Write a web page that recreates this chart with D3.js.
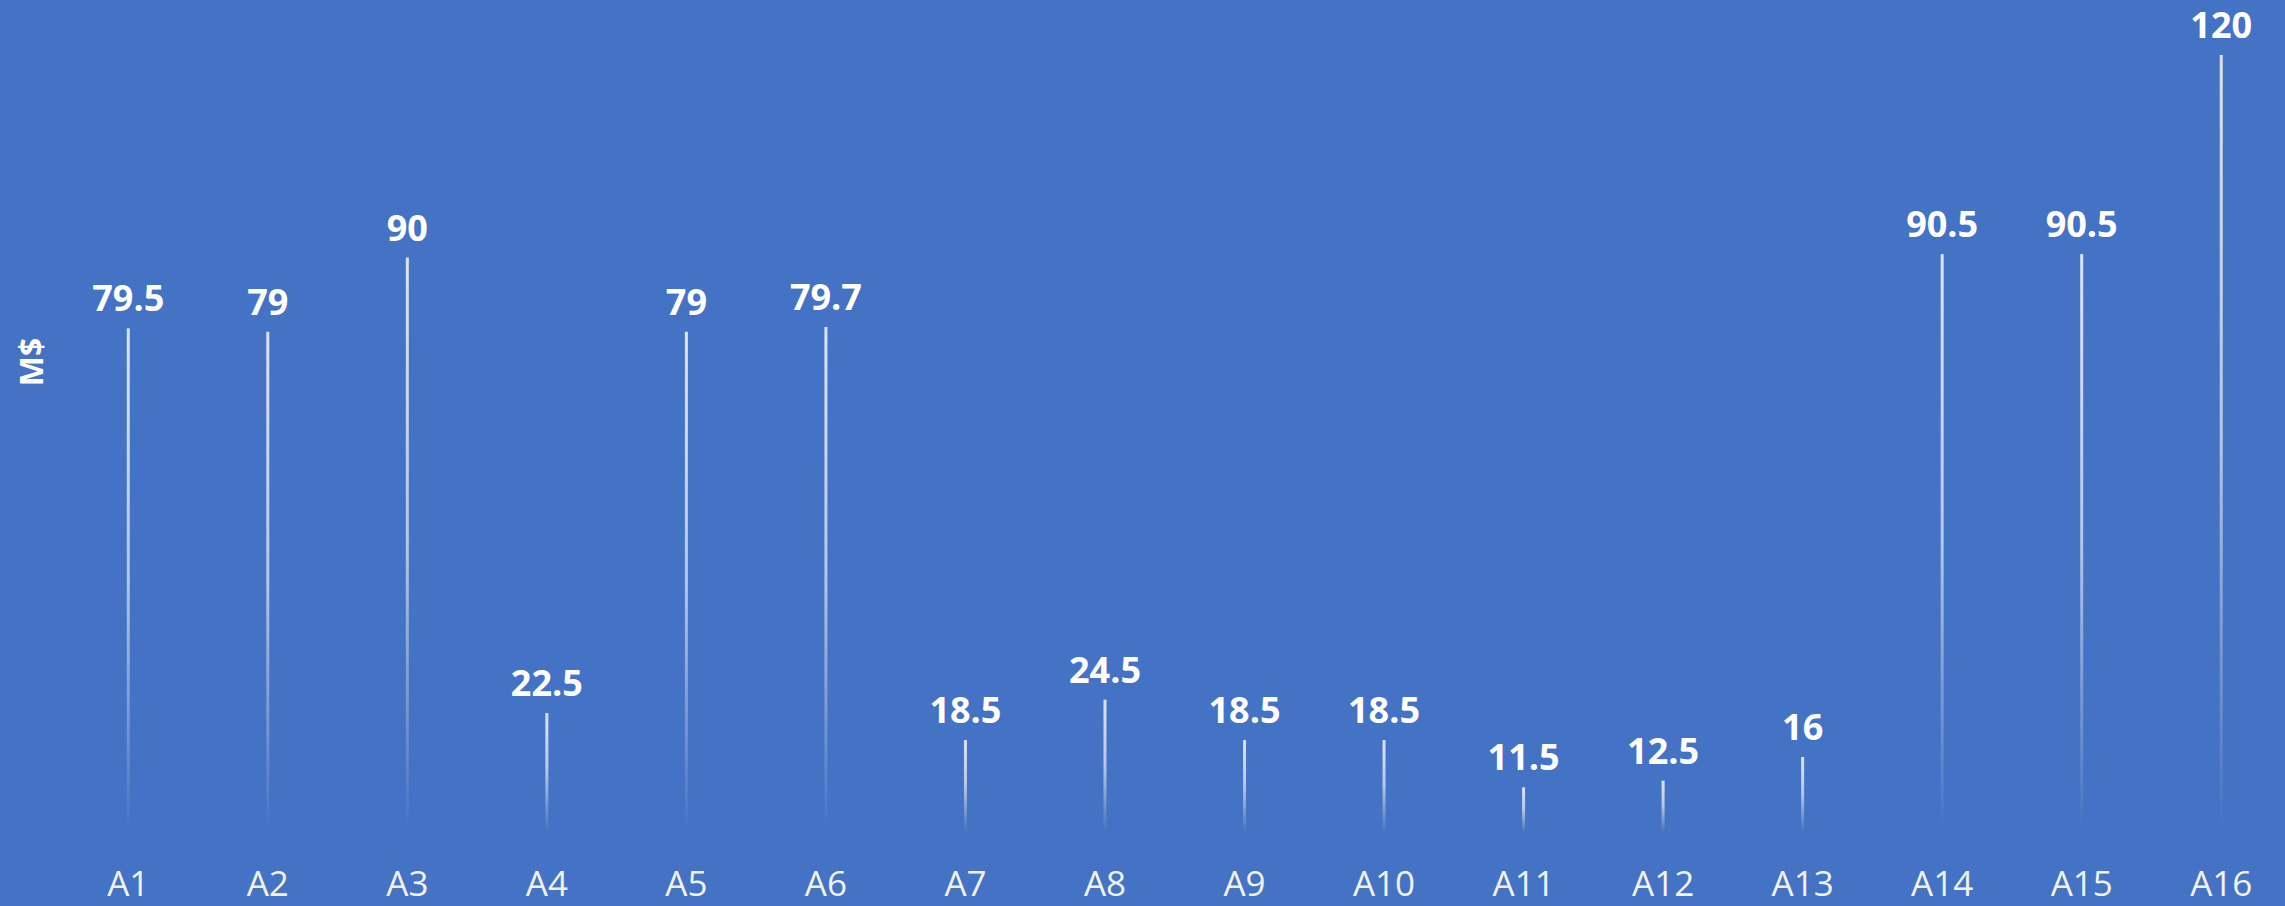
<!DOCTYPE html>
<html>
<head>
<meta charset="utf-8">
<script src="https://cdn.jsdelivr.net/npm/d3@7"></script>
<style>
  html, body { margin: 0; padding: 0; background: #4472C4; }
  svg { display: block; }
</style>
</head>
<body>
<script>
// Amounts per item, in millions of dollars
const categories = ["A1","A2","A3","A4","A5","A6","A7","A8","A9","A10","A11","A12","A13","A14","A15","A16"];
const values = [79.5, 79, 90, 22.5, 79, 79.7, 18.5, 24.5, 18.5, 18.5, 11.5, 12.5, 16, 90.5, 90.5, 120];
const unitLabel = "M$";

const W = 2285, H = 906;
const svg = d3.select("body").append("svg").attr("width", W).attr("height", H);

svg.append("rect").attr("width", W).attr("height", H).attr("fill", "#4472C4");

const x = d3.scaleBand().domain(categories).range([58.5, 2291]).padding(0);
const y = d3.scaleLinear().domain([0, 120]).range([865, 55]);

// Stems stop a little short of the baseline and fade out toward it
const stemGap = 33;

const grad = svg.append("defs").append("linearGradient")
  .attr("id", "stemFade").attr("x1", 0).attr("y1", 0).attr("x2", 0).attr("y2", 1);
grad.append("stop").attr("offset", "0%").attr("stop-color", "#E4EAF6").attr("stop-opacity", 0.95);
grad.append("stop").attr("offset", "50%").attr("stop-color", "#E4EAF6").attr("stop-opacity", 0.7);
grad.append("stop").attr("offset", "100%").attr("stop-color", "#E4EAF6").attr("stop-opacity", 0);

const data = categories.map((c, i) => ({ c, v: values[i] }));
const cx = d => x(d.c) + x.bandwidth() / 2;

svg.append("g").selectAll("rect").data(data).join("rect")
  .attr("x", d => cx(d) - 1.5)
  .attr("width", 3)
  .attr("y", d => y(d.v))
  .attr("height", d => Math.max(0, y(0) - stemGap - y(d.v)))
  .attr("fill", "url(#stemFade)");

svg.append("g").selectAll("text").data(data).join("text")
  .attr("x", cx)
  .attr("y", d => y(d.v) - 17)
  .attr("text-anchor", "middle")
  .attr("fill", "#FFFFFF")
  .style("font-family", "'Open Sans', sans-serif")
  .style("font-weight", 700)
  .style("font-size", "36px")
  .text(d => d.v);

// Category axis along the bottom, without domain line or ticks
const xAxis = svg.append("g")
  .attr("transform", `translate(0, ${H - 10})`)
  .call(d3.axisBottom(x).tickSize(0).tickPadding(0));
xAxis.select(".domain").remove();
xAxis.selectAll("text")
  .attr("dy", 0)
  .attr("fill", "#F2F2F2")
  .style("font-family", "'Open Sans', sans-serif")
  .style("font-size", "35px");

svg.append("text")
  .attr("transform", "translate(43, 362) rotate(-90)")
  .attr("text-anchor", "middle")
  .attr("fill", "#FFFFFF")
  .style("font-family", "'Open Sans', sans-serif")
  .style("font-weight", 700)
  .style("font-size", "32px")
  .text(unitLabel);
</script>
</body>
</html>
